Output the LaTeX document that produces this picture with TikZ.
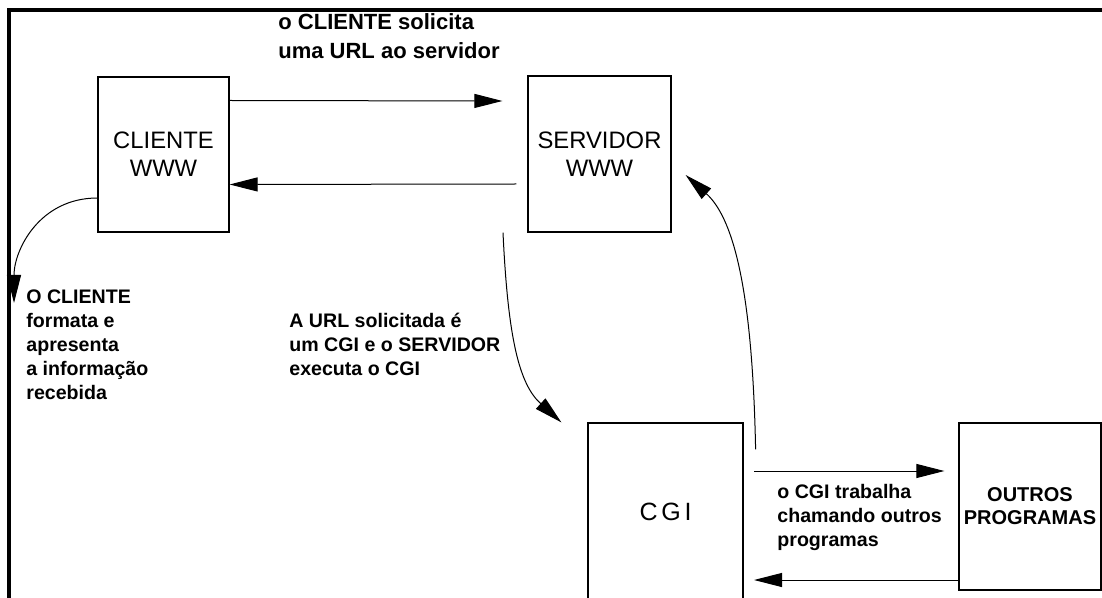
\documentclass[tikz,border=0pt]{standalone}
\usepackage{fontspec}
\setmainfont{Liberation Sans}
\usetikzlibrary{arrows.meta}

\begin{document}
\begin{tikzpicture}[x=0.5pt,y=-0.5pt,
  box/.style={draw,line width=0.6pt,inner sep=0,align=center,font=\fontsize{11.9}{14}\selectfont},
  note/.style={anchor=north west,inner sep=0,align=left,font=\fontsize{9.8}{12}\selectfont\bfseries},
  arr/.style={line width=0.5pt,-{Triangle[length=14pt,width=7pt]}}]
  \useasboundingbox (0,0) rectangle (1102,598);
  \clip (0,0) rectangle (1102,598);
  \draw[line width=1.6pt] (9,598) -- (9,10) -- (1102,10);
  % boxes
  \node[box,minimum width=65.5pt,minimum height=77.5pt] (cli) at (163.5,154.5) {CLIENTE\\WWW};
  \node[box,minimum width=71.5pt,minimum height=78pt] (srv) at (599.5,154) {SERVIDOR\\WWW};
  \node[box,minimum width=77.5pt,minimum height=88.5pt,font=\fontsize{12.5}{14}\selectfont\addfontfeatures{LetterSpace=15}] (cgi) at (665.5,511.5) {CGI};
  \node[box,minimum width=71pt,minimum height=83.5pt,font=\fontsize{10}{11.5}\selectfont\bfseries] (out) at (1030,506.5) {OUTROS\\PROGRAMAS};
  % texts
  \node[note,font=\fontsize{11}{14.5}\selectfont\bfseries] (reqtxt) at (278,13) {o CLIENTE solicita\\uma URL ao servidor};
  \node[note] (showtxt) at (26,289) {O CLIENTE\\formata e\\apresenta\\a informação\\recebida};
  \node[note] (exectxt) at (289,313) {A URL solicitada é\\um CGI e o SERVIDOR\\executa o CGI};
  \node[note] (calltxt) at (777,484) {o CGI trabalha\\chamando outros\\programas};
  % connectors
  \coordinate (showtip) at (14,303);
  \coordinate (calltail) at (754,471);
  \coordinate (rettip) at (754,580);
  \draw[arr] ([yshift=27pt]cli.east) -- ([xshift=-12.5pt,yshift=26.5pt]srv.west);
  \draw[arr] ([xshift=-5.5pt,yshift=-15pt]srv.west) -- ([yshift=-15pt]cli.east);
  \draw[arr] ([yshift=-21.75pt]cli.west) .. controls +(-58,0) and +(0,-53) .. (showtip);
  \draw[arr] ([xshift=-48.25pt]srv.south) .. controls +(5,107) and +(-42,-38) .. ([xshift=-13pt]cgi.north west);
  \draw[arr] ([xshift=6pt,yshift=-13.5pt]cgi.north east) .. controls +(-3,-150) and +(50,45) .. ([xshift=7pt,yshift=-10.5pt]srv.east);
  \draw[arr,shorten >=7pt] (calltail) -- (calltail -| out.west);
  \draw[arr] (out.west |- rettip) -- (rettip);
\end{tikzpicture}
\end{document}
